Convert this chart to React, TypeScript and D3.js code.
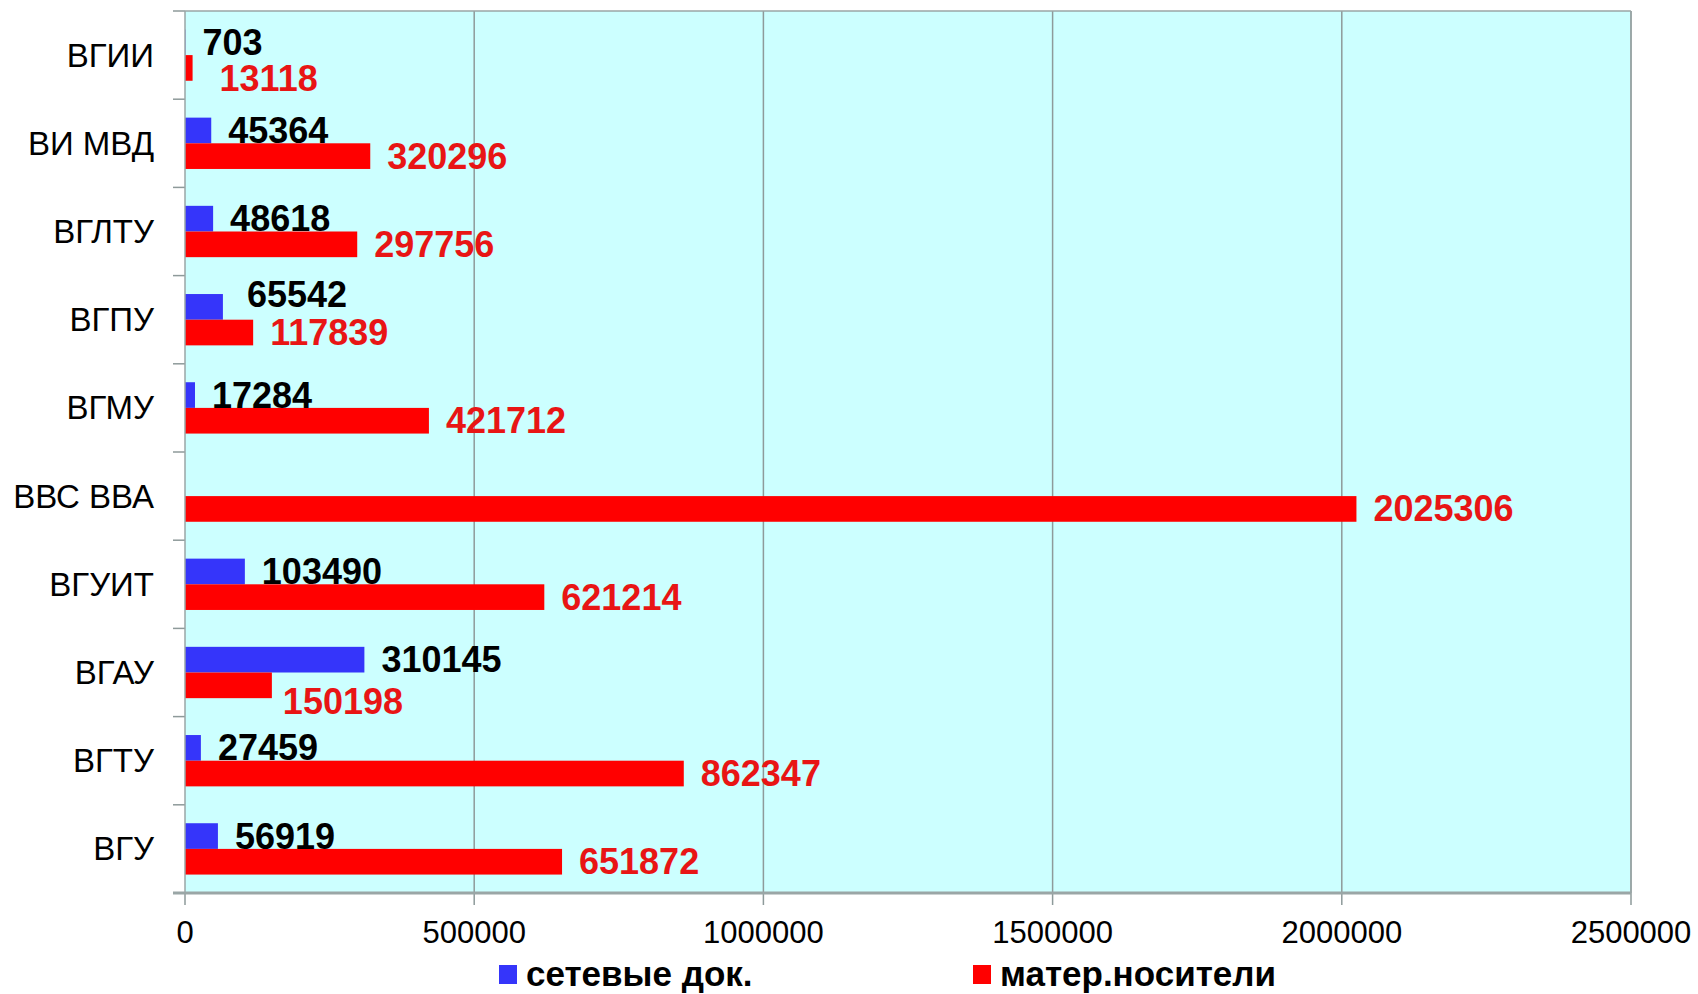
import React from 'react';
import * as d3 from 'd3';

const categories = ['ВГИИ', 'ВИ МВД', 'ВГЛТУ', 'ВГПУ', 'ВГМУ', 'ВВС ВВА', 'ВГУИТ', 'ВГАУ', 'ВГТУ', 'ВГУ'];
const networkDocs: (number | null)[] = [703, 45364, 48618, 65542, 17284, null, 103490, 310145, 27459, 56919];
const physicalMedia: (number | null)[] = [13118, 320296, 297756, 117839, 421712, 2025306, 621214, 150198, 862347, 651872];
const xTicks = [0, 500000, 1000000, 1500000, 2000000, 2500000];
const seriesNames = ['сетевые док.', 'матер.носители'];

// label nudges (relative offsets, as placed in the original to avoid overlaps)
const labelNudge: Record<string, { s: number; dx: number; dy: number }> = {
  'ВГИИ': { s: 1, dx: 10, dy: 11 },
  'ВГПУ': { s: 0, dx: 7, dy: -12 },
  'ВГАУ': { s: 1, dx: -6, dy: 16 },
};

const W = 1698;
const H = 994;
const FONT = '"Liberation Sans", Arial, sans-serif';
const BAR_COLORS = ['#3535FA', '#FF0000'];
const LABEL_COLORS = ['#000000', '#E81515'];

export default function App() {
  const left = 185, right = 1631, top = 11, bottom = 893;
  const x = d3.scaleLinear().domain([0, 2500000]).range([left, right]);
  const y = d3.scaleBand<string>().domain(categories).range([top, bottom]).padding(0);
  const bh = y.bandwidth() * 0.291;
  const series = [networkDocs, physicalMedia];
  const ys = d3.scaleBand<number>().domain([0, 1]).range([0, 2 * bh]).padding(0);
  const groupOff = (y.bandwidth() - 2 * bh) / 2;

  return (
    <svg width={W} height={H} style={{ position: 'absolute', left: 0, top: 0, display: 'block', background: '#fff' }} fontFamily={FONT}>
      <rect x={left} y={top} width={right - left} height={bottom - top} fill="#CCFFFF" />
      {xTicks.map((t) => (
        <g key={t}>
          {t > 0 && <line x1={x(t)} x2={x(t)} y1={top} y2={bottom} stroke="#8E9A9A" strokeWidth={1.5} />}
          <line x1={x(t)} x2={x(t)} y1={bottom} y2={bottom + 12} stroke="#8E9A9A" strokeWidth={1.5} />
          <text x={x(t)} y={932} textAnchor="middle" dominantBaseline="central" fontSize={31} fill="#000">
            {t}
          </text>
        </g>
      ))}
      <line x1={left} x2={right} y1={top} y2={top} stroke="#9AA6A6" strokeWidth={1.5} />
      {categories.map((c) => (
        <line key={'t' + c} x1={left - 12} x2={left} y1={y(c)!} y2={y(c)!} stroke="#8E9A9A" strokeWidth={1.5} />
      ))}
      <line x1={left - 12} x2={left} y1={bottom} y2={bottom} stroke="#8E9A9A" strokeWidth={1.5} />
      {categories.map((c, i) =>
        series.map((s, si) => {
          const v = s[i];
          if (v == null) return null;
          return (
            <rect
              key={c + si}
              x={x(0)}
              y={y(c)! + groupOff + ys(si)!}
              width={x(v) - x(0)}
              height={ys.bandwidth()}
              fill={BAR_COLORS[si]}
            />
          );
        })
      )}
      <line x1={left} x2={left} y1={top} y2={bottom} stroke="#9AA6A6" strokeWidth={1.5} />
      <line x1={right} x2={right} y1={top} y2={bottom} stroke="#9AA6A6" strokeWidth={1.5} />
      <line x1={left - 12} x2={right} y1={bottom} y2={bottom} stroke="#9AA6A6" strokeWidth={3} />
      {categories.map((c, i) =>
        series.map((s, si) => {
          const v = s[i];
          if (v == null) return null;
          const n = labelNudge[c];
          const dx = n && n.s === si ? n.dx : 0;
          const dy = n && n.s === si ? n.dy : 0;
          return (
            <text
              key={'l' + c + si}
              x={x(v) + 17 + dx}
              y={y(c)! + groupOff + ys(si)! + ys.bandwidth() / 2 + dy}
              dominantBaseline="central"
              fontSize={36}
              fontWeight="bold"
              fill={LABEL_COLORS[si]}
            >
              {v}
            </text>
          );
        })
      )}
      {categories.map((c) => (
        <text key={'c' + c} x={154} y={y(c)! + y.bandwidth() / 2} textAnchor="end" dominantBaseline="central" fontSize={33} fill="#000">
          {c}
        </text>
      ))}
      {seriesNames.map((name, si) => {
        const lx = [499, 973][si];
        return (
          <g key={name}>
            <rect x={lx} y={965} width={18} height={19} fill={BAR_COLORS[si]} />
            <text x={lx + 27} y={973} dominantBaseline="central" fontSize={35} fontWeight="bold" fill="#000">
              {name}
            </text>
          </g>
        );
      })}
    </svg>
  );
}
